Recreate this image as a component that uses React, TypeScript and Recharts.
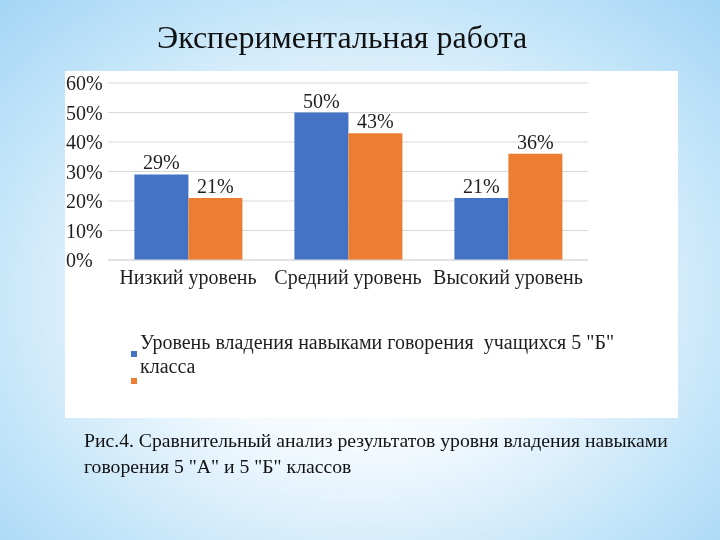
import React from 'react'
import { BarChart, Bar, XAxis, YAxis, CartesianGrid, Legend, LabelList } from 'recharts'

const categories = ['Низкий уровень', 'Средний уровень', 'Высокий уровень']
const seriesB = [29, 50, 21]
const seriesA = [21, 43, 36]
const yTicks = [0, 10, 20, 30, 40, 50, 60]
const seriesBName = 'Уровень владения навыками говорения  учащихся 5 "Б" класса'
const seriesAName = ''
const seriesOrder = ['b', 'a']

const data = categories.map((name, i) => ({ name, b: seriesB[i], a: seriesA[i] }))

const FONT = '"Liberation Serif", "Times New Roman", serif'
const BLUE = '#4472C4'
const ORANGE = '#ED7D31'

const YTick = ({ y, payload }: any) => (
  <text x={1} y={y} dy={7} textAnchor="start" fontSize={20} fill="#1e1e1e" fontFamily={FONT}>
    {payload.value}%
  </text>
)

// legend keeps series order (recharts sorts by name otherwise)
const LegendContent = ({ payload }: any) => {
  const items = [...(payload || [])].sort(
    (p: any, q: any) => seriesOrder.indexOf(p.dataKey) - seriesOrder.indexOf(q.dataKey)
  )
  return (
    <div style={{ fontFamily: FONT, fontSize: 20, color: '#1e1e1e' }}>
      {items.map((it: any, i: number) => (
        <div
          key={i}
          style={{
            display: 'flex',
            alignItems: 'center',
            height: it.value ? 'auto' : 6,
          }}
        >
          <span style={{ width: 6, height: 6, background: it.color, display: 'inline-block', flexShrink: 0 }} />
          {it.value ? (
            <span style={{ marginLeft: 3, width: 490, lineHeight: '24px', whiteSpace: 'pre-wrap' }}>{it.value}</span>
          ) : null}
        </div>
      ))}
    </div>
  )
}

export default function App() {
  return (
    <div
      style={{
        position: 'fixed',
        left: 0,
        top: 0,
        width: 720,
        height: 540,
        overflow: 'hidden',
        fontFamily: FONT,
        background:
          'radial-gradient(ellipse 75% 80% at 50% 55%, #ffffff 0%, #f4fafe 35%, #c4e5f9 70%, #9dd3f4 100%)',
      }}
    >
      <div style={{ position: 'absolute', left: 157, top: 19, fontSize: 32, lineHeight: '36px', color: '#111', whiteSpace: 'nowrap' }}>
        Экспериментальная работа
      </div>

      <div style={{ position: 'absolute', left: 65, top: 71, width: 613, height: 347, background: '#fff' }}>
        <BarChart
          width={613}
          height={347}
          data={data}
          margin={{ top: 12, right: 90, left: 0, bottom: 0 }}
          barCategoryGap="16.5%"
          barGap={0}
        >
          <CartesianGrid vertical={false} stroke="#d9d9d9" />
          <XAxis
            dataKey="name"
            height={158}
            tickLine={false}
            tickMargin={4}
            axisLine={{ stroke: '#d9d9d9' }}
            tick={{ fontSize: 20, fill: '#1e1e1e', fontFamily: FONT }}
          />
          <YAxis
            width={43}
            domain={[0, 60]}
            ticks={yTicks}
            axisLine={false}
            tickLine={false}
            tick={<YTick />}
          />
          <Legend
            layout="horizontal"
            verticalAlign="middle"
            align="center"
            content={<LegendContent />}
            wrapperStyle={{ left: 66, top: 259, width: 520 }}
          />
          <Bar dataKey="b" name={seriesBName} fill={BLUE} isAnimationActive={false}>
            <LabelList dataKey="b" position="top" formatter={(v: any) => `${v}%`} fontSize={20} fill="#1e1e1e" fontFamily={FONT} />
          </Bar>
          <Bar dataKey="a" name={seriesAName} fill={ORANGE} isAnimationActive={false}>
            <LabelList dataKey="a" position="top" formatter={(v: any) => `${v}%`} fontSize={20} fill="#1e1e1e" fontFamily={FONT} />
          </Bar>
        </BarChart>
      </div>

      <div style={{ position: 'absolute', left: 84, top: 427, fontSize: 19.7, lineHeight: '26px', color: '#111', whiteSpace: 'nowrap' }}>
        Рис.4. Сравнительный анализ результатов уровня владения навыками
        <br />
        говорения 5 "А" и 5 "Б" классов
      </div>
    </div>
  )
}
